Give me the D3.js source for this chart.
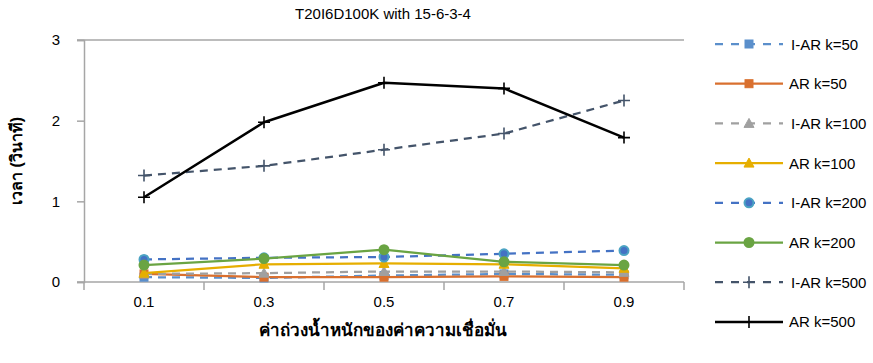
<!DOCTYPE html>
<html>
<head>
<meta charset="utf-8">
<script src="https://cdn.jsdelivr.net/npm/d3@7"></script>
<style>
  html, body { margin: 0; padding: 0; background: #fff; }
  svg { display: block; font-family: "Liberation Sans", Arial, sans-serif; }
</style>
</head>
<body>
<svg id="chart" width="873" height="363"></svg>
<script>
const title = "T20I6D100K with 15-6-3-4";
const categories = ["0.1", "0.3", "0.5", "0.7", "0.9"];
const yTicks = [0, 1, 2, 3];
const xTitle = "ค่าถ่วงน้ำหนักของค่าความเชื่อมั่น";
const yTitle = "เวลา (วินาที)";

const seriesNames = ["I-AR k=50", "AR k=50", "I-AR k=100", "AR k=100", "I-AR k=200", "AR k=200", "I-AR k=500", "AR k=500"];
const iar50  = [0.06, 0.05, 0.08, 0.10, 0.09];
const ar50   = [0.10, 0.06, 0.06, 0.07, 0.06];
const iar100 = [0.10, 0.11, 0.13, 0.13, 0.12];
const ar100  = [0.11, 0.22, 0.23, 0.22, 0.17];
const iar200 = [0.28, 0.30, 0.31, 0.35, 0.39];
const ar200  = [0.21, 0.29, 0.40, 0.25, 0.21];
const iar500 = [1.32, 1.44, 1.64, 1.84, 2.25];
const ar500  = [1.05, 1.98, 2.47, 2.40, 1.79];

const styles = [
  {color: "#5B8FCB", dash: "8,6", marker: "square", mfill: "#5B8FCB", mstroke: "#5B8FCB"},
  {color: "#D9702F", dash: null,  marker: "square", mfill: "#D9702F", mstroke: "#D9702F"},
  {color: "#A0A0A0", dash: "8,6", marker: "triangle", mfill: "#A0A0A0", mstroke: "#A0A0A0"},
  {color: "#E6AE00", dash: null,  marker: "triangle", mfill: "#E6AE00", mstroke: "#E6AE00"},
  {color: "#4472C4", dash: "8,6", marker: "circle", mfill: "#4472C4", mstroke: "#4BA3C3"},
  {color: "#6AA443", dash: null,  marker: "circle", mfill: "#6AA443", mstroke: "#6AA443"},
  {color: "#44546A", dash: "8,6", marker: "plus", mfill: "none", mstroke: "#44546A"},
  {color: "#000000", dash: null,  marker: "plus", mfill: "none", mstroke: "#000000"}
];
const seriesData = [iar50, ar50, iar100, ar100, iar200, ar200, iar500, ar500];

const svg = d3.select("#chart");
const mLeft = 84, mRight = 684, mTop = 40, mBottom = 282;

const x = d3.scaleBand().domain(categories).range([mLeft, mRight]).paddingInner(0).paddingOuter(0);
const y = d3.scaleLinear().domain([0, 3]).range([mBottom, mTop]);
const cx = d => x(d) + x.bandwidth() / 2;

// title
svg.append("text").attr("x", 383).attr("y", 19).attr("text-anchor", "middle")
  .attr("font-size", 15).attr("fill", "#000").text(title);

// top border line
svg.append("line").attr("x1", mLeft - 7).attr("x2", mRight).attr("y1", y(3)).attr("y2", y(3))
  .attr("stroke", "#A6A6A6").attr("stroke-width", 1.5);

// y axis
const yAxis = svg.append("g").attr("transform", `translate(${mLeft},0)`)
  .call(d3.axisLeft(y).tickValues(yTicks).tickSize(7).tickPadding(17).tickFormat(d3.format("d")));
yAxis.select(".domain").attr("stroke", "#A6A6A6").attr("stroke-width", 1.5);
yAxis.selectAll(".tick line").attr("stroke", "#A6A6A6").attr("stroke-width", 1.5);
yAxis.selectAll(".tick text").attr("font-size", 15).attr("fill", "#000")
  .attr("font-family", "'Liberation Sans', Arial, sans-serif");

// x axis
const xAxis = svg.append("g").attr("transform", `translate(0,${mBottom})`)
  .call(d3.axisBottom(x).tickSize(0).tickPadding(14));
xAxis.select(".domain").remove();
xAxis.selectAll(".tick text").attr("font-size", 15).attr("fill", "#000")
  .attr("font-family", "'Liberation Sans', Arial, sans-serif");
svg.append("line").attr("x1", mLeft - 7).attr("x2", mRight).attr("y1", mBottom).attr("y2", mBottom)
  .attr("stroke", "#A6A6A6").attr("stroke-width", 1.5);
const bounds = categories.map(c => x(c)).concat([x(categories[categories.length - 1]) + x.bandwidth()]);
svg.append("g").selectAll("line").data(bounds).join("line")
  .attr("x1", d => d).attr("x2", d => d).attr("y1", mBottom).attr("y2", mBottom + 8)
  .attr("stroke", "#A6A6A6").attr("stroke-width", 1.5);

// axis titles
svg.append("text").attr("x", 383).attr("y", 336).attr("text-anchor", "middle")
  .attr("font-size", 17).attr("font-weight", "bold").attr("fill", "#000").text(xTitle);
svg.append("text").attr("transform", `translate(22,${(mTop + mBottom) / 2}) rotate(-90)`)
  .attr("text-anchor", "middle").attr("font-size", 16).attr("font-weight", "bold")
  .attr("fill", "#000").text(yTitle);

function drawMarker(g, st, px, py) {
  if (st.marker === "square") {
    g.append("rect").attr("x", px - 4).attr("y", py - 4).attr("width", 8).attr("height", 8)
      .attr("fill", st.mfill).attr("stroke", st.mstroke).attr("stroke-width", 1);
  } else if (st.marker === "triangle") {
    g.append("path").attr("d", `M${px},${py - 5}L${px + 5},${py + 4}L${px - 5},${py + 4}Z`)
      .attr("fill", st.mfill).attr("stroke", st.mstroke).attr("stroke-width", 1);
  } else if (st.marker === "circle") {
    g.append("circle").attr("cx", px).attr("cy", py).attr("r", 4.5)
      .attr("fill", st.mfill).attr("stroke", st.mstroke).attr("stroke-width", 2);
  } else if (st.marker === "plus") {
    g.append("path").attr("d", `M${px - 6},${py}H${px + 6}M${px},${py - 6}V${py + 6}`)
      .attr("fill", "none").attr("stroke", st.mstroke).attr("stroke-width", 1.6);
  }
}

const line = d3.line().x((d, i) => cx(categories[i])).y(d => y(d));
const plot = svg.append("g");
seriesData.forEach((data, si) => {
  const st = styles[si];
  const g = plot.append("g");
  g.append("path").attr("d", line(data)).attr("fill", "none")
    .attr("stroke", st.color).attr("stroke-width", si === 7 ? 2.5 : 2.25)
    .attr("stroke-dasharray", st.dash).attr("stroke-linejoin", "round");
  data.forEach((v, i) => drawMarker(g, st, cx(categories[i]), y(v)));
});

// legend
const legend = svg.append("g");
seriesNames.forEach((name, si) => {
  const st = styles[si];
  const ly = 44 + si * 39.7;
  const g = legend.append("g");
  g.append("line").attr("x1", 715).attr("x2", 783).attr("y1", ly).attr("y2", ly)
    .attr("stroke", st.color).attr("stroke-width", si === 7 ? 2.5 : 2.25)
    .attr("stroke-dasharray", st.dash ? "8,8" : null);
  drawMarker(g, st, 749, ly);
  g.append("text").attr("x", si % 2 === 0 ? 791 : 789).attr("y", ly + 5.5).attr("font-size", 15)
    .attr("fill", "#000").text(name);
});
</script>
</body>
</html>
